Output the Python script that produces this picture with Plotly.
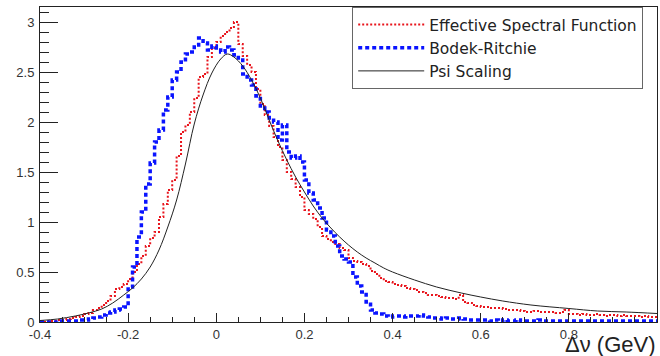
import plotly.graph_objects as go

# bin edges: 0.01 GeV bins from -0.4 to 1.0
bin_lo = -0.4
bin_w = 0.01
n_bins = 140

red_vals = [
    0.00, 0.00, 0.01, 0.01, 0.02, 0.02, 0.03, 0.04, 0.05, 0.06,
    0.08, 0.09, 0.12, 0.14, 0.17, 0.21, 0.26, 0.33, 0.35, 0.38,
    0.43, 0.50, 0.58, 0.66, 0.76, 0.84, 0.90, 1.05, 1.18, 1.32,
    1.42, 1.66, 1.90, 1.97, 2.10, 2.24, 2.45, 2.48, 2.65, 2.74,
    2.80, 2.86, 2.90, 2.94, 3.00, 2.78, 2.66, 2.57, 2.50, 2.33,
    2.18, 2.07, 1.96, 1.85, 1.75, 1.62, 1.50, 1.43, 1.35, 1.25,
    1.12, 1.08, 1.03, 0.95, 0.86, 0.83, 0.80, 0.78, 0.74, 0.72,
    0.64, 0.61, 0.60, 0.58, 0.56, 0.51, 0.48, 0.44, 0.41, 0.40,
    0.38, 0.37, 0.36, 0.34, 0.33, 0.32, 0.30, 0.29, 0.27, 0.27,
    0.26, 0.25, 0.24, 0.24, 0.23, 0.27, 0.20, 0.19, 0.17, 0.16,
    0.15, 0.15, 0.14, 0.14, 0.14, 0.13, 0.12, 0.12, 0.12, 0.11,
    0.10, 0.10, 0.11, 0.10, 0.10, 0.10, 0.10, 0.09, 0.10, 0.12,
    0.08, 0.08, 0.07, 0.08, 0.07, 0.07, 0.08, 0.07, 0.06, 0.07,
    0.07, 0.06, 0.07, 0.06, 0.06, 0.06, 0.05, 0.06, 0.05, 0.05,
]

blue_vals = [
    0.00, 0.00, 0.00, 0.00, 0.01, 0.01, 0.01, 0.01, 0.01, 0.02,
    0.02, 0.03, 0.04, 0.05, 0.07, 0.09, 0.10, 0.12, 0.13, 0.15,
    0.35, 0.55, 0.85, 1.10, 1.38, 1.59, 1.80, 1.92, 2.12, 2.25,
    2.42, 2.50, 2.60, 2.68, 2.70, 2.77, 2.84, 2.79, 2.72, 2.76,
    2.74, 2.70, 2.75, 2.72, 2.67, 2.62, 2.48, 2.42, 2.37, 2.26,
    2.14, 2.10, 2.04, 2.00, 1.82, 1.97, 1.70, 1.64, 1.66, 1.60,
    1.42, 1.29, 1.22, 1.14, 1.04, 0.92, 0.86, 0.76, 0.66, 0.63,
    0.60, 0.45, 0.36, 0.30, 0.20, 0.12, 0.09, 0.08, 0.06, 0.05,
    0.06, 0.06, 0.05, 0.06, 0.06, 0.06, 0.07, 0.06, 0.05, 0.04,
    0.04, 0.03, 0.04, 0.03, 0.03, 0.04, 0.03, 0.02, 0.02, 0.02,
    0.02, 0.02, 0.01, 0.02, 0.01, 0.02, 0.01, 0.01, 0.02, 0.01,
    0.01, 0.01, 0.01, 0.02, 0.01, 0.01, 0.01, 0.01, 0.01, 0.01,
    0.01, 0.01, 0.01, 0.01, 0.01, 0.01, 0.01, 0.01, 0.01, 0.01,
    0.01, 0.01, 0.01, 0.01, 0.01, 0.01, 0.01, 0.01, 0.01, 0.01,
]

psi_x = [-0.40, -0.36, -0.32, -0.29, -0.26, -0.235, -0.21, -0.19, -0.17, -0.15,
         -0.13, -0.11, -0.09, -0.07, -0.05, -0.03, -0.01, 0.01, 0.025, 0.04,
         0.06, 0.08, 0.10, 0.12, 0.14, 0.16, 0.18, 0.20, 0.22, 0.24,
         0.26, 0.28, 0.30, 0.32, 0.34, 0.36, 0.38, 0.40, 0.45, 0.50,
         0.556, 0.60, 0.65, 0.714, 0.80, 0.865, 0.93, 1.00]
psi_y = [0.015, 0.03, 0.06, 0.09, 0.13, 0.19, 0.27, 0.34, 0.43, 0.55,
         0.72, 0.95, 1.22, 1.58, 1.98, 2.27, 2.49, 2.63, 2.68, 2.65,
         2.56, 2.42, 2.24, 2.02, 1.81, 1.62, 1.45, 1.30, 1.16, 1.04,
         0.94, 0.85, 0.77, 0.70, 0.64, 0.59, 0.54, 0.50, 0.42, 0.35,
         0.29, 0.25, 0.21, 0.17, 0.135, 0.11, 0.10, 0.085]

edges = [round(bin_lo + i * bin_w, 4) for i in range(n_bins + 1)]

fig = go.Figure()
fig.add_trace(go.Scatter(
    x=edges, y=red_vals + [red_vals[-1]], mode="lines", line_shape="hv",
    name="Effective Spectral Function", legendgroup="a",
    line=dict(color="#e8141c", width=2, dash="2px,2px")))
fig.add_trace(go.Scatter(
    x=edges, y=blue_vals + [blue_vals[-1]], mode="lines", line_shape="hv",
    name="Bodek-Ritchie", legendgroup="b",
    line=dict(color="#0a14ff", width=3.5, dash="4px,3px")))
fig.add_trace(go.Scatter(
    x=psi_x, y=psi_y, mode="lines", line_shape="spline",
    name="Psi Scaling", legendgroup="c",
    line=dict(color="#222222", width=1)))

axis_font = dict(family="Liberation Sans, Arial, sans-serif", size=13, color="#333333")

fig.update_layout(
    width=660, height=356,
    margin=dict(l=40, r=3, t=7, b=34),
    paper_bgcolor="white", plot_bgcolor="white",
    font=axis_font,
    showlegend=True,
    legend=dict(
        x=0.506, y=1.0, xanchor="left", yanchor="top",
        bgcolor="white", bordercolor="#666666", borderwidth=1,
        font=dict(family="DejaVu Sans, Liberation Sans, sans-serif", size=15.5, color="#222222"),
        tracegroupgap=0, itemwidth=66,
    ),
    xaxis=dict(
        range=[-0.4, 1.0], showgrid=False, zeroline=False,
        showline=True, linecolor="#222222", linewidth=1, mirror=True,
        ticks="inside", ticklen=9, tickcolor="#222222",
        tickvals=[-0.4, -0.2, 0, 0.2, 0.4, 0.6, 0.8, 1.0],
        ticktext=["-0.4", "-0.2", "0", "0.2", "0.4", "0.6", "0.8", "1"],
        minor=dict(dtick=0.05, ticks="inside", ticklen=5, tickcolor="#222222"),
        tickfont=axis_font,
    ),
    yaxis=dict(
        range=[0, 3.15], showgrid=False, zeroline=False,
        showline=True, linecolor="#222222", linewidth=1, mirror=True,
        ticks="inside", ticklen=18, tickcolor="#222222",
        tickvals=[0, 0.5, 1, 1.5, 2, 2.5, 3],
        ticktext=["0", "0.5", "1", "1.5", "2", "2.5", "3"],
        minor=dict(dtick=0.1, ticks="inside", ticklen=9, tickcolor="#222222"),
        tickfont=axis_font, ticklabelstandoff=2,
    ),
    annotations=[dict(
        text="Δν (GeV)", xref="paper", yref="paper", x=1.0, y=-0.026,
        xanchor="right", yanchor="top", showarrow=False,
        font=dict(family="Liberation Sans, Arial, sans-serif", size=22, color="#222222"),
    )],
)

fig.write_html("out.html")
